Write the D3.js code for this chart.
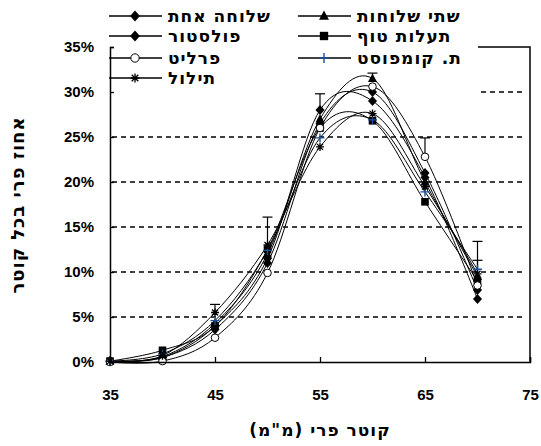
<!DOCTYPE html>
<html>
<head>
<meta charset="utf-8">
<script src="https://cdn.jsdelivr.net/npm/d3@7"></script>
<style>
  html, body { margin: 0; padding: 0; background: #fff; }
  svg { display: block; }
  text { font-family: "Liberation Sans", Arial, sans-serif; font-weight: bold; fill: #000; }
  text.he { font-family: "DejaVu Sans", sans-serif; letter-spacing: 1px; }
</style>
</head>
<body>
<svg id="chart" width="541" height="446"></svg>
<script>
// Fruit diameter classes (mm)
const diameters = [35, 40, 45, 50, 55, 60, 65, 70];

// Share of fruit in each diameter class (%), per treatment
const seriesNames = ["שלוחה אחת", "שתי שלוחות", "פולסטור", "תעלות טוף", "פרליט", "ת. קומפוסט", "תילול"];
const oneBranch   = [0.1, 0.5, 4.0, 11.5, 28.0, 29.0, 20.5, 7.0];
const twoBranches = [0.1, 0.6, 4.3, 12.0, 27.0, 31.5, 20.0, 9.5];
const polystor    = [0.1, 0.5, 3.6, 11.0, 26.5, 30.0, 21.0, 8.0];
const tuffTrench  = [0.1, 1.3, 4.0, 12.5, 26.0, 26.8, 17.8, 9.0];
const perlite     = [0.0, 0.1, 2.7, 9.9, 26.0, 30.6, 22.8, 8.5];
const compost     = [0.1, 0.9, 4.6, 12.4, 24.9, 26.9, 18.9, 10.3];
const ridging     = [0.1, 0.7, 5.5, 13.0, 23.9, 27.6, 19.5, 9.8];

// Upper error bars (%), per treatment
const oneBranchErr   = [0, 0, 0, 0, 1.8, 0, 0, 0];
const twoBranchesErr = [0, 0, 0, 0, 0, 0.6, 0, 0];
const polystorErr    = [0, 0, 0, 0, 0, 0, 0, 0];
const tuffTrenchErr  = [0, 0, 0, 0, 0, 0, 0, 2.3];
const perliteErr     = [0, 0, 0, 0, 0, 0, 2.1, 0];
const compostErr     = [0, 0, 0, 3.7, 0, 0, 0, 3.1];
const ridgingErr     = [0, 0, 0.9, 0, 0, 0, 0, 0];

const xTicks = [35, 45, 55, 65, 75];
const yTicks = [0, 5, 10, 15, 20, 25, 30, 35];
const xTitle = "קוטר פרי (מ\"מ)";
const yTitle = "אחוז פרי בכל קוטר";

const symbols = ["diamond", "triangle", "diamond", "square", "circle", "plus", "star"];
const valuesList = [oneBranch, twoBranches, polystor, tuffTrench, perlite, compost, ridging];
const errList = [oneBranchErr, twoBranchesErr, polystorErr, tuffTrenchErr, perliteErr, compostErr, ridgingErr];

const series = seriesNames.map((name, i) => ({
  name, symbol: symbols[i],
  points: diameters.map((d, j) => ({ x: d, y: valuesList[i][j], e: errList[i][j] }))
}));

const svg = d3.select("#chart");
const plot = { left: 110, right: 530, top: 47, bottom: 362 };

const x = d3.scaleLinear().domain([35, 75]).range([plot.left, plot.right]);
const y = d3.scaleLinear().domain([0, 35]).range([plot.bottom, plot.top]);

// Dashed horizontal gridlines
svg.append("g").selectAll("line")
  .data(yTicks.filter(t => t > 0 && t < 35))
  .join("line")
  .attr("x1", plot.left + 2).attr("x2", plot.right - 5)
  .attr("y1", d => y(d)).attr("y2", d => y(d))
  .attr("stroke", "#000").attr("stroke-width", 1.3)
  .attr("stroke-dasharray", "5,4");

// Legend background (covers the upper-left corner of the plot frame)
svg.append("rect")
  .attr("x", 98).attr("y", 0).attr("width", 381).attr("height", 98)
  .attr("fill", "#fff");

// Plot frame: top and right edges
svg.append("path")
  .attr("d", `M${478},${plot.top}H${plot.right}V${plot.bottom}`)
  .attr("fill", "none").attr("stroke", "#000").attr("stroke-width", 1.5);

// Smoothed series lines
const line = d3.line()
  .x(d => x(d.x)).y(d => y(d.y))
  .curve(d3.curveCardinal.tension(0));

svg.append("g").selectAll("path")
  .data(series)
  .join("path")
  .attr("d", d => line(d.points))
  .attr("fill", "none").attr("stroke", "#000").attr("stroke-width", 1);

// Upper error bars
const errG = svg.append("g").attr("stroke", "#000").attr("stroke-width", 1.2);
series.forEach(s => s.points.filter(p => p.e > 0).forEach(p => {
  const cx = x(p.x), y0 = y(p.y), y1 = y(p.y + p.e);
  errG.append("line").attr("x1", cx).attr("x2", cx).attr("y1", y0).attr("y2", y1);
  errG.append("line").attr("x1", cx - 5).attr("x2", cx + 5).attr("y1", y1).attr("y2", y1);
}));

// Marker drawing
function drawMarker(g, type, cx, cy, k = 1) {
  if (type === "diamond") {
    g.append("path").attr("d", `M${cx},${cy - 5 * k}L${cx + 4.5 * k},${cy}L${cx},${cy + 5 * k}L${cx - 4.5 * k},${cy}Z`).attr("fill", "#000");
  } else if (type === "triangle") {
    g.append("path").attr("d", `M${cx},${cy - 5 * k}L${cx + 4.5 * k},${cy + 3.5 * k}L${cx - 4.5 * k},${cy + 3.5 * k}Z`).attr("fill", "#000");
  } else if (type === "square") {
    g.append("rect").attr("x", cx - 3.8 * k).attr("y", cy - 3.8 * k).attr("width", 7.6 * k).attr("height", 7.6 * k).attr("fill", "#000");
  } else if (type === "circle") {
    g.append("circle").attr("cx", cx).attr("cy", cy).attr("r", 3.8 * k).attr("fill", "#fff").attr("stroke", "#000").attr("stroke-width", 1);
  } else if (type === "plus") {
    g.append("path").attr("d", `M${cx - 4.5 * k},${cy}H${cx + 4.5 * k}M${cx},${cy - 4.5 * k}V${cy + 4.5 * k}`)
      .attr("stroke", "#1b4f9a").attr("stroke-width", 1.4).attr("fill", "none");
  } else if (type === "star") {
    g.append("path").attr("d", `M${cx - 4 * k},${cy}H${cx + 4 * k}M${cx},${cy - 4 * k}V${cy + 4 * k}M${cx - 3 * k},${cy - 3 * k}L${cx + 3 * k},${cy + 3 * k}M${cx - 3 * k},${cy + 3 * k}L${cx + 3 * k},${cy - 3 * k}`)
      .attr("stroke", "#000").attr("stroke-width", 1.3).attr("fill", "none");
  }
}

const markG = svg.append("g");
series.forEach(s => s.points.forEach(p => drawMarker(markG, s.symbol, x(p.x), y(p.y))));

// Axes
const yAxis = d3.axisLeft(y).tickValues(yTicks).tickSize(-4).tickPadding(16).tickFormat(d => d + "%");
const yg = svg.append("g").attr("transform", `translate(${plot.left},0)`).call(yAxis);
yg.select(".domain").attr("stroke", "#000").attr("stroke-width", 1.5);
yg.selectAll(".tick line").attr("stroke", "#000").attr("stroke-width", 1.3);
yg.selectAll(".tick text").attr("font-size", 15).attr("font-family", "Liberation Sans, Arial, sans-serif").attr("font-weight", "bold");

const xAxis = d3.axisBottom(x).tickValues(xTicks).tickSize(-5).tickPadding(27).tickFormat(d3.format("d"));
const xg = svg.append("g").attr("transform", `translate(0,${plot.bottom})`).call(xAxis);
xg.select(".domain").attr("stroke", "#000").attr("stroke-width", 1.5);
xg.selectAll(".tick line").attr("stroke", "#000").attr("stroke-width", 1.3);
xg.selectAll(".tick text").attr("font-size", 15).attr("font-family", "Liberation Sans, Arial, sans-serif").attr("font-weight", "bold");

// Axis titles
svg.append("text").attr("class", "he")
  .attr("x", 320).attr("y", 436)
  .attr("text-anchor", "middle").attr("direction", "rtl")
  .attr("font-size", 17)
  .text(xTitle);

svg.append("text").attr("class", "he")
  .attr("transform", "translate(24,205) rotate(-90)")
  .attr("text-anchor", "middle").attr("direction", "rtl")
  .attr("font-size", 18)
  .text(yTitle);

// Legend
const legendPos = [
  { x: 109, y: 16 }, { x: 298, y: 16 },
  { x: 109, y: 36 }, { x: 298, y: 36 },
  { x: 109, y: 58 }, { x: 298, y: 58 },
  { x: 109, y: 78 }
];
const legG = svg.append("g");
series.forEach((s, i) => {
  const p = legendPos[i];
  legG.append("line").attr("x1", p.x).attr("x2", p.x + 53).attr("y1", p.y).attr("y2", p.y)
    .attr("stroke", "#000").attr("stroke-width", 1.3);
  drawMarker(legG, s.symbol, p.x + 26, p.y, 1.1);
  legG.append("text").attr("class", "he")
    .attr("x", p.x + 59).attr("y", p.y + 6)
    .attr("direction", "rtl").attr("text-anchor", "end")
    .attr("font-size", 17)
    .text(s.name);
});
</script>
</body>
</html>
